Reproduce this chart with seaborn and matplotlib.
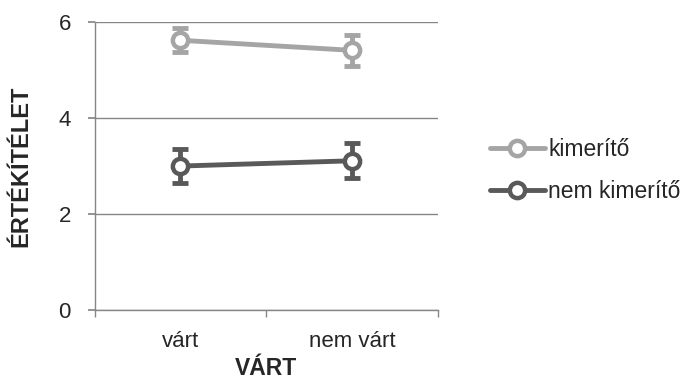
import pandas as pd
import matplotlib.pyplot as plt
import seaborn as sns

categories = ['várt', 'nem várt']
series_names = ['kimerítő', 'nem kimerítő']
kimerito = [5.62, 5.41]
kimerito_err = [0.25, 0.32]
nem_kimerito = [3.00, 3.11]
nem_kimerito_err = [0.36, 0.36]
y_ticks = [0, 2, 4, 6]

colors = {'kimerítő': '#A5A5A5', 'nem kimerítő': '#595959'}

df = pd.DataFrame({
    'VÁRT': categories * 2,
    'ÉRTÉKÍTÉLET': kimerito + nem_kimerito,
    'err': kimerito_err + nem_kimerito_err,
    'group': [series_names[0]] * 2 + [series_names[1]] * 2,
})
df['x'] = df['VÁRT'].map({c: i for i, c in enumerate(categories)})

sns.set_theme(style="white")
plt.rcParams['font.family'] = ['Liberation Sans', 'DejaVu Sans']

fig = plt.figure(figsize=(6.9, 3.8), dpi=100)
ax = fig.add_axes([0.137, 0.184, 0.498, 0.758])

for name in series_names:
    sub = df[df['group'] == name]
    c = colors[name]
    ax.errorbar(sub['x'], sub['ÉRTÉKÍTÉLET'], yerr=sub['err'], fmt='none',
                ecolor=c, elinewidth=3.5, capsize=6, capthick=3.5, zorder=2)
    sns.lineplot(data=sub, x='x', y='ÉRTÉKÍTÉLET', ax=ax, color=c, lw=3.5,
                 marker='o', markersize=11, markerfacecolor='white',
                 markeredgecolor=c, markeredgewidth=3.2, label=name, zorder=3)

ax.set_xlim(-0.5, 1.5)
ax.set_ylim(0, 6)
ax.set_yticks(y_ticks)
ax.set_xticks(range(len(categories)))
ax.set_xticklabels(categories)
ax.set_xticks([-0.5, 0.5, 1.5], minor=True)
ax.yaxis.grid(True, color='#868686', lw=1)
ax.set_axisbelow(True)
for s in ['top', 'right']:
    ax.spines[s].set_visible(False)
for s in ['left', 'bottom']:
    ax.spines[s].set_color('#868686')
    ax.spines[s].set_linewidth(1)
ax.tick_params(axis='y', which='major', left=True, length=5, color='#868686',
               labelsize=16, pad=12)
ax.tick_params(axis='x', which='major', bottom=False, labelsize=16, pad=9)
ax.tick_params(axis='x', which='minor', bottom=True, length=5, color='#868686')
ax.set_xlabel('VÁRT', fontsize=16.5, fontweight='bold', labelpad=4)
ax.set_ylabel('ÉRTÉKÍTÉLET', fontsize=17, fontweight='bold', labelpad=19)

ax.legend(loc='center left', bbox_to_anchor=(1.09, 0.485), frameon=False,
          fontsize=16.5, handlelength=2.4, handletextpad=0.15, labelspacing=0.8)

fig.savefig('out.png', dpi=100)
